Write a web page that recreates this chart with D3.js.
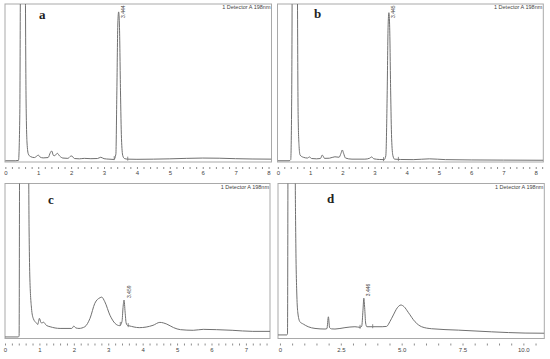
<!DOCTYPE html>
<html>
<head>
<meta charset="UTF-8">
<title>HPLC chromatograms</title>
<script src="https://d3js.org/d3.v7.min.js"></script>
<style>
  body { margin: 0; background: #fff; }
  svg { display: block; }
  .frame { fill: none; stroke: #a9a9a9; stroke-width: 1; }
  .trace { fill: none; stroke: #707070; stroke-width: 1; }
  .mark { stroke: #707070; stroke-width: 0.8; }
  .axis .domain { display: none; }
  .axis line { stroke: #8c8c8c; }
  .axis text { font-family: "Liberation Sans", Arial, sans-serif; font-size: 6px; fill: #444; }
  .det { font-family: "Liberation Sans", Arial, sans-serif; font-size: 5.5px; fill: #444; }
  .rt { font-family: "Liberation Sans", Arial, sans-serif; font-size: 5px; fill: #444; }
  .pid { font-family: "Liberation Serif", "Times New Roman", serif; font-weight: bold; font-size: 13px; fill: #222; }
</style>
</head>
<body>
<svg id="chart" width="550" height="359"></svg>
<script>
// retention time (min), signal (% of full scale)
const traceA = [[0,0.8],[0.3,0.8],[0.4,1.0],[0.44,30],[0.47,160],[0.59,160],[0.63,40],[0.66,12],[0.70,5],[0.76,3.5],[0.88,2.8],[0.96,3.8],[1.0,4.4],[1.05,3.2],[1.15,2.6],[1.3,2.8],[1.37,6],[1.41,7],[1.46,4.2],[1.5,4],[1.58,5.5],[1.65,3.8],[1.75,2.5],[1.9,2.3],[1.98,3.6],[2.02,3.8],[2.1,2.2],[2.25,2],[2.4,2.3],[2.6,2.1],[2.8,2.2],[2.9,3],[3.0,2.1],[3.15,1.8],[3.3,1.6],[3.36,5],[3.39,45],[3.42,88],[3.444,95],[3.47,85],[3.50,45],[3.53,15],[3.57,4],[3.62,2.2],[3.72,1.8],[4.0,1.7],[4.5,1.8],[5.0,2.0],[5.5,2.3],[6.0,2.5],[6.5,2.4],[7.0,2.1],[7.5,1.9],[8.09,1.8]];
const traceB = [[0,0.8],[0.35,0.8],[0.40,1.5],[0.43,40],[0.46,160],[0.59,160],[0.63,30],[0.66,9.7],[0.69,4.4],[0.79,3],[0.92,2.5],[0.98,3.2],[1.05,2.2],[1.2,2],[1.32,2.2],[1.38,4.4],[1.45,2.3],[1.6,2.4],[1.77,3.3],[1.9,3],[1.96,5.5],[2.0,7.6],[2.04,5.5],[2.1,2.5],[2.3,1.8],[2.7,1.8],[2.85,2.4],[2.91,3.2],[2.98,2],[3.15,1.6],[3.3,1.5],[3.35,4],[3.39,40],[3.42,85],[3.445,94.5],[3.47,85],[3.50,45],[3.53,15],[3.57,4],[3.62,1.8],[3.8,1.6],[4.2,1.5],[4.7,2],[5.2,1.5],[6,1.3],[7,1.2],[8.24,1.1]];
const traceC = [[0,1],[0.38,1],[0.41,1.5],[0.43,160],[0.67,160],[0.70,70],[0.72,41],[0.77,19.5],[0.82,13],[0.92,9.8],[0.95,9],[1.0,13],[1.04,10.5],[1.07,10],[1.12,10.5],[1.2,8.5],[1.31,7.6],[1.6,6.5],[1.94,6.5],[2.0,8],[2.06,6.8],[2.15,6.5],[2.32,7.6],[2.47,13],[2.61,22.7],[2.76,26.3],[2.81,26.7],[2.9,23.7],[3.05,15],[3.2,9.7],[3.33,8.3],[3.40,11],[3.43,20],[3.459,24.8],[3.49,17],[3.52,10],[3.56,8.4],[3.6,8.2],[3.9,7],[4.3,8.5],[4.5,10.4],[4.7,9.3],[4.9,7],[5.1,5.7],[5.47,5.3],[5.76,5.9],[6.15,5.7],[6.6,5.3],[7.2,4.6],[7.7,4.6]];
const traceD = [[-0.08,2.3],[0.28,2.3],[0.31,3],[0.34,160],[0.60,160],[0.64,80],[0.66,51.7],[0.69,30],[0.73,17.3],[0.82,10.8],[0.96,9.3],[1.16,7.6],[1.44,6.5],[1.85,6.1],[1.93,6.4],[1.99,14],[2.04,7],[2.12,6.2],[2.26,6.1],[2.67,7],[3.08,7.6],[3.29,7.2],[3.36,8],[3.41,18],[3.446,26],[3.48,20],[3.52,10],[3.57,7.6],[3.81,7.6],[4.2,7.6],[4.38,7.8],[4.52,11],[4.66,15.2],[4.82,19.8],[4.97,21.6],[5.1,20.5],[5.27,16.9],[5.55,10.8],[5.82,7.6],[6.23,6.3],[7.33,5.4],[8.7,4.3],[10.07,3.5],[10.86,3.4]];

// integration start/end marks
const marksA = [3.31, 3.72];
const marksB = [3.28, 3.74];
const marksC = [3.35, 3.58];
const marksD = [3.29, 3.81];

// labelled peaks
const peaksA = [3.444];
const peaksB = [3.445];
const peaksC = [3.459];
const peaksD = [3.446];

// x tick labels
const ticksA = [0, 1, 2, 3, 4, 5, 6, 7, 8];
const ticksB = [0, 1, 2, 3, 4, 5, 6, 7, 8];
const ticksC = [0, 1, 2, 3, 4, 5, 6, 7];
const ticksD = [0, 2.5, 5, 7.5, 10];
const tickTextD = ["0", "2.5", "5.0", "7.5", "10.0"];

const detector = "1 Detector A 198nm";

const panels = [
  { id: "a", data: traceA, marks: marksA, peaks: peaksA, ticks: ticksA, fmt: d => String(d), minor: 0.2,
    xDom: [-0.01, 8.09], x0: 5, x1: 271.5, y0: 4, y1: 162, idPos: [39, 19] },
  { id: "b", data: traceB, marks: marksB, peaks: peaksB, ticks: ticksB, fmt: d => String(d), minor: 0.2,
    xDom: [-0.01, 8.235], x0: 277.5, x1: 543.3, y0: 4, y1: 162, idPos: [314, 18] },
  { id: "c", data: traceC, marks: marksC, peaks: peaksC, ticks: ticksC, fmt: d => String(d), minor: 0.2,
    xDom: [0, 7.7], x0: 5, x1: 270, y0: 183.5, y1: 338.5, idPos: [48, 204] },
  { id: "d", data: traceD, marks: marksD, peaks: peaksD, ticks: ticksD, fmt: d => tickTextD[ticksD.indexOf(d)], minor: 0.5,
    xDom: [-0.08, 10.86], x0: 278, x1: 544.3, y0: 183.5, y1: 338.5, idPos: [327, 203] }
];

const svg = d3.select("#chart");

panels.forEach((p, i) => {
  const x = d3.scaleLinear().domain(p.xDom).range([p.x0, p.x1]);
  const y = d3.scaleLinear().domain([0, 100]).range([p.y1, p.y0]);

  const clipId = "clip-" + p.id;
  svg.append("clipPath").attr("id", clipId)
    .append("rect")
    .attr("x", p.x0).attr("y", p.y0)
    .attr("width", p.x1 - p.x0).attr("height", p.y1 - p.y0);

  const g = svg.append("g");

  g.append("rect").attr("class", "frame")
    .attr("x", p.x0).attr("y", p.y0)
    .attr("width", p.x1 - p.x0).attr("height", p.y1 - p.y0);

  const line = d3.line()
    .x(d => x(d[0]))
    .y(d => y(d[1]))
    .curve(d3.curveMonotoneX);

  g.append("path").attr("class", "trace")
    .attr("clip-path", `url(#${clipId})`)
    .attr("d", line(p.data));

  // value at a given time, from the trace points
  const valueAt = t => {
    const j = d3.bisector(d => d[0]).left(p.data, t);
    const a = p.data[Math.max(0, j - 1)], b = p.data[Math.min(p.data.length - 1, j)];
    if (a === b || b[0] === a[0]) return b[1];
    return a[1] + (b[1] - a[1]) * (t - a[0]) / (b[0] - a[0]);
  };

  g.selectAll(".mark").data(p.marks).enter()
    .append("line").attr("class", "mark")
    .attr("x1", d => x(d)).attr("x2", d => x(d))
    .attr("y1", d => y(valueAt(d)) - 2.5)
    .attr("y2", d => y(valueAt(d)) + 1.5);

  g.selectAll(".rt").data(p.peaks).enter()
    .append("text").attr("class", "rt")
    .attr("transform", d => {
      const px = x(d) + 6.5;
      const py = Math.max(y(valueAt(d)) - 2, p.y0 + 14);
      return `translate(${px},${py}) rotate(-90)`;
    })
    .text(d => d.toFixed(3));

  g.append("text").attr("class", "det")
    .attr("x", p.x1 - 1).attr("y", p.y0 + 5)
    .attr("text-anchor", "end")
    .text(detector);

  g.append("text").attr("class", "pid")
    .attr("x", p.idPos[0]).attr("y", p.idPos[1])
    .text(p.id);

  const minorTicks = d3.range(0, p.xDom[1] + 1e-9, p.minor);
  const axisY = p.y1 + 5;

  g.append("g").attr("class", "axis")
    .attr("transform", `translate(0,${axisY})`)
    .call(d3.axisBottom(x).tickValues(minorTicks).tickSize(2).tickFormat(""));

  g.append("g").attr("class", "axis")
    .attr("transform", `translate(0,${axisY})`)
    .call(d3.axisBottom(x).tickValues(p.ticks).tickSize(0).tickPadding(4).tickFormat(p.fmt));
});
</script>
</body>
</html>
